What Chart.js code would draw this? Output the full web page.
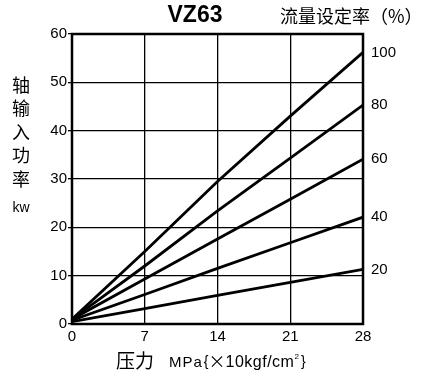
<!DOCTYPE html>
<html>
<head>
<meta charset="utf-8">
<script src="https://cdn.jsdelivr.net/npm/chart.js@4"></script>
<style>
  html, body { margin: 0; padding: 0; background: #fff; }
  #wrap { width: 422px; height: 378px; }
</style>
</head>
<body>
<div id="wrap"><canvas id="c" width="422" height="378"></canvas></div>
<script>
const pressures = [0, 7, 14, 21, 28];
const flowRates = ['100', '80', '60', '40', '20'];
const power100 = [1.0, 15.0, 29.5, 43.0, 56.2];
const power80 = [1.0, 12.0, 23.4, 34.3, 45.3];
const power60 = [1.0, 9.3, 17.6, 25.8, 34.1];
const power40 = [0.8, 6.1, 11.5, 16.8, 22.1];
const power20 = [0.5, 3.2, 5.9, 8.6, 11.3];
const xTicks = [0, 7, 14, 21, 28];
const yTicks = [0, 10, 20, 30, 40, 50, 60];

const series = [power100, power80, power60, power40, power20];
const font = '"Liberation Sans", Arial, sans-serif';
const cjk = '"Noto Sans CJK SC", sans-serif';

// draws text pieces one after another, returns end x
function chain(ctx, x, parts) {
    parts.forEach(p => {
        ctx.font = p.font;
        ctx.letterSpacing = p.ls || '0px';
        ctx.fillText(p.text, x + (p.dx || 0), p.y);
        x += (p.dx || 0) + ctx.measureText(p.text).width;
    });
    ctx.letterSpacing = '0px';
    return x;
}

const labelsPlugin = {
    id: 'labels',
    afterDraw(chart) {
        const ctx = chart.ctx;
        const area = chart.chartArea;
        const ys = chart.scales.y;
        ctx.save();
        ctx.fillStyle = '#000';

        // border
        ctx.strokeStyle = '#000';
        ctx.lineWidth = 2.5;
        ctx.strokeRect(area.left, area.top, area.right - area.left, area.bottom - area.top);

        // title
        ctx.font = 'bold 23px ' + font;
        ctx.textAlign = 'center';
        ctx.textBaseline = 'middle';
        ctx.fillText('VZ63', 195, 16);

        ctx.font = '18px ' + cjk;
        ctx.textAlign = 'left';
        ctx.fillText('流量设定率（%）', 280, 16);

        // series labels at line ends
        ctx.font = '15px ' + font;
        series.forEach((s, i) => {
            ctx.fillText(flowRates[i], area.right + 8, ys.getPixelForValue(s[s.length - 1]));
        });

        // y axis title
        ctx.textAlign = 'center';
        ctx.font = '18px ' + cjk;
        ['轴', '输', '入', '功', '率'].forEach((ch, i) => {
            ctx.fillText(ch, 21, 85 + i * 23.5);
        });
        ctx.font = '14px ' + font;
        ctx.fillText('kw', 21, 208);

        // x axis title
        ctx.textAlign = 'left';
        chain(ctx, 116, [
            { text: '压力', font: '19px ' + cjk, y: 361 },
            { text: 'MPa', font: '15px ' + font, y: 363, dx: 15, ls: '1px' },
            { text: '{', font: '14px ' + font, y: 362, dx: 1 },
            { text: '×', font: '17px ' + cjk, y: 362 },
            { text: '10kgf/cm', font: '16px ' + font, y: 363, ls: '0.5px' },
            { text: '2', font: '8px ' + font, y: 357 },
            { text: '}', font: '14px ' + font, y: 362, dx: 2 }
        ]);
        ctx.restore();
    }
};

new Chart(document.getElementById('c'), {
    type: 'line',
    data: {
        datasets: series.map((s, i) => ({
            label: flowRates[i],
            data: s.map((v, j) => ({ x: pressures[j], y: v })),
            borderColor: '#000',
            borderWidth: 2.8,
            pointRadius: 0,
            tension: 0,
            fill: false
        }))
    },
    options: {
        responsive: false,
        animation: false,
        layout: { padding: { top: 34, right: 59, left: 0, bottom: 0 } },
        plugins: { legend: { display: false }, tooltip: { enabled: false } },
        scales: {
            x: {
                type: 'linear',
                min: 0,
                max: 28,
                afterBuildTicks: (scale) => { scale.ticks = xTicks.map(v => ({ value: v })); },
                afterFit: (scale) => { scale.height = 54; },
                grid: { color: '#000', lineWidth: 1.3, drawTicks: false },
                border: { display: false },
                ticks: { color: '#000', font: { family: font, size: 15 }, padding: 4, maxRotation: 0 }
            },
            y: {
                min: 0,
                max: 60,
                afterBuildTicks: (scale) => { scale.ticks = yTicks.map(v => ({ value: v })); },
                afterFit: (scale) => { scale.width = 72; },
                grid: { color: '#000', lineWidth: 1.3, tickLength: 4 },
                border: { display: false },
                ticks: { color: '#000', font: { family: font, size: 15 }, padding: 1 }
            }
        }
    },
    plugins: [labelsPlugin]
});
</script>
</body>
</html>
